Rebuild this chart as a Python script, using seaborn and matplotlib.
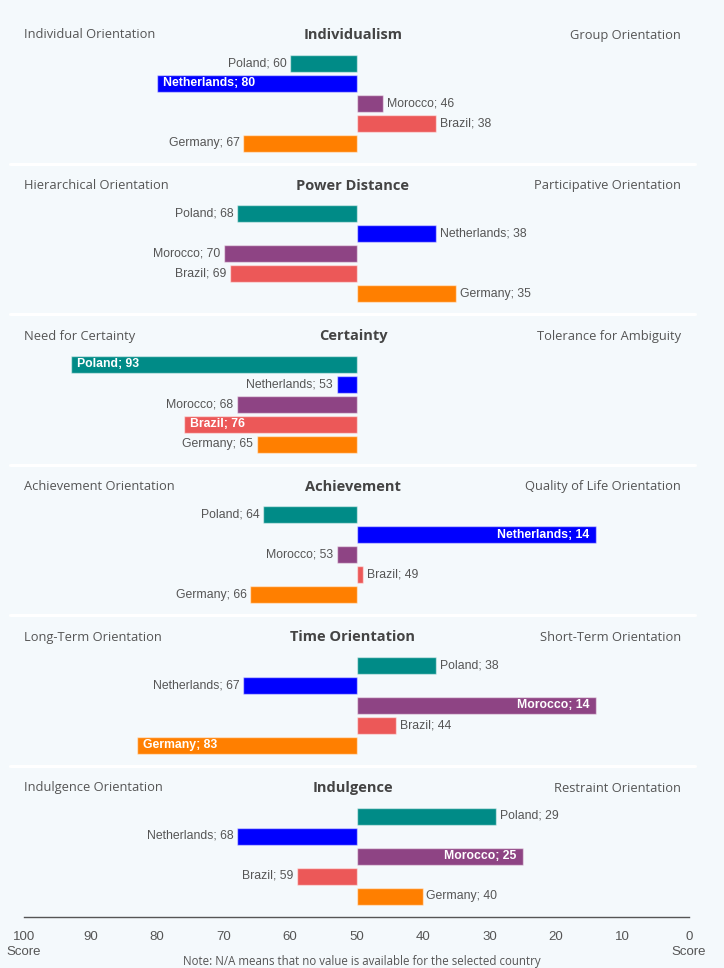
import numpy as np
import pandas as pd
import matplotlib
matplotlib.use("Agg")
import matplotlib.pyplot as plt
from matplotlib.lines import Line2D
import seaborn as sns

# ---------------- data ----------------
countries = ["Poland", "Netherlands", "Morocco", "Brazil", "Germany"]
country_colors = ["#008B87", "#0000FF", "#8E4484", "#EC5858", "#FF7F00"]

dimensions = ["Individualism", "Power Distance", "Certainty",
              "Achievement", "Time Orientation", "Indulgence"]
left_labels = ["Individual Orientation", "Hierarchical Orientation", "Need for Certainty",
               "Achievement Orientation", "Long-Term Orientation", "Indulgence Orientation"]
right_labels = ["Group Orientation", "Participative Orientation", "Tolerance for Ambiguity",
                "Quality of Life Orientation", "Short-Term Orientation", "Restraint Orientation"]

individualism = [60, 80, 46, 38, 67]
power_distance = [68, 38, 70, 69, 35]
certainty = [93, 53, 68, 76, 65]
achievement = [64, 14, 53, 49, 66]
time_orientation = [38, 67, 14, 44, 83]
indulgence = [29, 68, 25, 59, 40]
panel_values = [individualism, power_distance, certainty,
                achievement, time_orientation, indulgence]

tick_values = [100, 90, 80, 70, 60, 50, 40, 30, 20, 10, 0]
tick_labels = ["100\nScore", "90", "80", "70", "60", "50", "40", "30", "20", "10", "0\nScore"]
midpoint = 50
note_text = "Note: N/A means that no value is available for the selected country"

# ---------------- style ----------------
W, H = 724, 968
BG = "#F4F9FC"
sns.set_theme(style="white")
plt.rcParams["font.family"] = ["Open Sans", "DejaVu Sans"]

fig = plt.figure(figsize=(W / 100, H / 100), dpi=100)
fig.patch.set_facecolor(BG)

def fx(px):
    return px / W

def fy(py):
    return 1 - py / H

palette = dict(zip(countries, country_colors))
LABEL_FONT = ["Liberation Sans", "DejaVu Sans"]
TICK_FONT = ["Liberation Sans Narrow", "Liberation Sans", "DejaVu Sans"]

x_left, x_right = 24, 689
step = 150.6

for k, (dim, vals) in enumerate(zip(dimensions, panel_values)):
    top = 53 + step * k
    ax = fig.add_axes([fx(x_left), fy(top + 100), fx(x_right) - fx(x_left), 100 / H])
    ax.set_facecolor("none")
    df = pd.DataFrame({"country": countries, "score": vals})
    df["delta"] = df["score"] - midpoint
    sns.barplot(data=df, x="delta", y="country", hue="country", order=countries,
                hue_order=countries, palette=palette, orient="h", dodge=False,
                legend=False, width=0.85, left=midpoint, saturation=1,
                edgecolor=(1, 1, 1, 0.5), linewidth=1.0, ax=ax)
    ax.set_xlim(100, 0)
    ax.set_ylim(4.5, -0.5)
    ax.axis("off")

    for i, (c, v) in enumerate(zip(countries, vals)):
        text = f"{c}; {v}"
        length = abs(v - midpoint)
        inside = length >= 25
        if v >= midpoint:   # bar extends to the left
            if inside:
                ax.annotate(text, xy=(v, i), xytext=(4.5, 0), textcoords="offset points",
                            ha="left", va="center", color="white", fontweight="bold",
                            fontsize=8.8, family=LABEL_FONT)
            else:
                ax.annotate(text, xy=(v, i), xytext=(-2.5, 0), textcoords="offset points",
                            ha="right", va="center", color="#555555",
                            fontsize=8.8, family=LABEL_FONT)
        else:               # bar extends to the right
            if inside:
                ax.annotate(text, xy=(v, i), xytext=(-4.5, 0), textcoords="offset points",
                            ha="right", va="center", color="white", fontweight="bold",
                            fontsize=8.8, family=LABEL_FONT)
            else:
                ax.annotate(text, xy=(v, i), xytext=(2.5, 0), textcoords="offset points",
                            ha="left", va="center", color="#555555",
                            fontsize=8.8, family=LABEL_FONT)

    ty = 35 + step * k
    fig.text(fx(353), fy(ty), dim, ha="center", va="center", fontsize=10.5,
             fontweight="bold", color="#444444")
    fig.text(fx(24), fy(ty), left_labels[k], ha="left", va="center", fontsize=9.3,
             color="#555555")
    fig.text(fx(681), fy(ty), right_labels[k], ha="right", va="center", fontsize=9.3,
             color="#555555")

    if k < len(dimensions) - 1:
        sy = 163.5 + step * k
        fig.add_artist(Line2D([fx(10), fx(695)], [fy(sy), fy(sy)], color="white",
                              lw=2.2, transform=fig.transFigure))

# bottom score axis
axx = fig.add_axes([fx(x_left), fy(917), fx(x_right) - fx(x_left), 1 / H])
axx.set_facecolor("none")
axx.set_xlim(100, 0)
axx.set_yticks([])
for s in ["top", "left", "right"]:
    axx.spines[s].set_visible(False)
axx.spines["bottom"].set_color("#555555")
axx.spines["bottom"].set_linewidth(1.0)
axx.set_xticks(tick_values)
axx.set_xticklabels(tick_labels, family=TICK_FONT, fontsize=9.5, color="#555555",
                    linespacing=1.3)
axx.tick_params(axis="x", length=0, pad=10)

fig.text(0.5, fy(961), note_text, ha="center", va="center", fontsize=8.3, color="#555555")

fig.savefig("out.png", dpi=100, facecolor=BG)
